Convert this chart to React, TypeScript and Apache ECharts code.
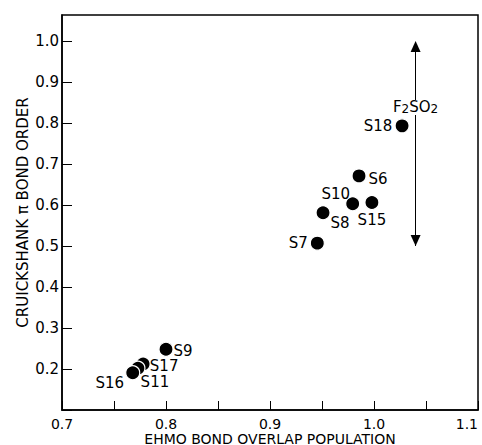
import React, { useEffect, useRef } from "react";
import * as echarts from "echarts";

// Compounds (drawing order: overlapping cluster back-to-front first)
const compounds = ["S17", "S11", "S16", "S9", "S7", "S8", "S10", "S15", "S6", "S18"];
const overlapPopulation = [0.778, 0.773, 0.768, 0.8, 0.9455, 0.951, 0.9795, 0.998, 0.9856, 1.027];
const piBondOrder = [0.212, 0.202, 0.191, 0.248, 0.507, 0.581, 0.603, 0.606, 0.671, 0.793];

// F2SO2 range arrow
const arrowX = 1.04;
const arrowRange = [0.5, 1.0];
const arrowLabel = { name: "F2SO2", x: 1.04, y: 0.838 };

const xTickLabels = ["0.7", "0.8", "0.9", "1.0", "1.1"];
const yTickLabels = ["0.2", "0.3", "0.4", "0.5", "0.6", "0.7", "0.8", "0.9", "1.0"];

// label placement (pixel offsets from marker centre)
const labelOffsets: Record<string, [number, number]> = {
  S17: [21, 2],
  S11: [17, 14],
  S16: [-23, 10],
  S9: [17, 2],
  S7: [-19, 0],
  S8: [17, 10],
  S10: [-17, -10],
  S15: [0, 17],
  S6: [19, 3],
  S18: [-24, 0],
};

const FONT = "DejaVu Sans";

export default function App() {
  const ref = useRef<HTMLDivElement>(null);
  useEffect(() => {
    if (!ref.current) return;
    const chart = echarts.init(ref.current, null, { renderer: "svg" });
    chart.setOption({
      animation: false,
      backgroundColor: "#fff",
      grid: {
        left: 62,
        right: 4,
        top: 15,
        bottom: 35,
        show: true,
        borderColor: "#000",
        borderWidth: 1.5,
        containLabel: false,
        outerBoundsMode: "none",
      },
      xAxis: {
        type: "value",
        min: 0.7,
        max: 1.1,
        interval: 0.05,
        name: "EHMO BOND OVERLAP POPULATION",
        nameLocation: "middle",
        nameGap: 22,
        nameMoveOverlap: false,
        nameTextStyle: { fontFamily: FONT, fontSize: 14, lineHeight: 13, color: "#000" },
        axisLine: { show: true, lineStyle: { color: "#000", width: 1.5 } },
        axisTick: { show: true, inside: true, length: 9, lineStyle: { color: "#000", width: 1 } },
        splitLine: { show: false },
        axisLabel: {
          fontFamily: FONT,
          fontSize: 14,
          lineHeight: 13,
          color: "#000",
          margin: 7,
          showMinLabel: true,
          showMaxLabel: true,
          alignMaxLabel: "right",
          hideOverlap: false,
          formatter: (v: number) => {
            const t = (Math.round(v * 100) / 100).toFixed(2);
            const one = t.endsWith("0") ? t.slice(0, -1) : "";
            return xTickLabels.includes(one) ? one : "";
          },
        },
      },
      yAxis: {
        type: "value",
        min: 0.1,
        max: 1.0634,
        interval: 0.1,
        name: "CRUICKSHANK π BOND ORDER",
        nameLocation: "middle",
        nameRotate: 90,
        nameGap: 32,
        nameMoveOverlap: false,
        nameTextStyle: { fontFamily: FONT, fontSize: 15, color: "#000" },
        axisLine: { show: true, lineStyle: { color: "#000", width: 1.5 } },
        axisTick: { show: true, inside: true, length: 10, lineStyle: { color: "#000", width: 1 } },
        splitLine: { show: false },
        axisLabel: {
          fontFamily: FONT,
          fontSize: 15,
          color: "#000",
          margin: 3,
          showMaxLabel: false,
          formatter: (v: number) => {
            const t = (Math.round(v * 10) / 10).toFixed(1);
            return yTickLabels.includes(t) ? t : "";
          },
        },
      },
      series: [
        {
          type: "scatter",
          symbol: "circle",
          symbolSize: 14,
          itemStyle: { color: "#000", borderColor: "#fff", borderWidth: 1.2, opacity: 1 },
          data: compounds.map((n, i) => ({
            name: n,
            value: [overlapPopulation[i], piBondOrder[i]],
            label: {
              show: true,
              position: "inside",
              offset: labelOffsets[n],
              formatter: n,
              color: "#000",
              fontFamily: FONT,
              fontSize: 15,
            },
          })),
          markLine: {
            silent: true,
            symbol: ["none", "none"],
            label: { show: false },
            lineStyle: { color: "#000", width: 1, type: "solid", opacity: 1 },
            emphasis: { disabled: true },
            data: [
              [
                { coord: [arrowX, arrowRange[0]] },
                { coord: [arrowX, arrowRange[1] - 0.01] },
              ],
            ],
          },
          markPoint: {
            silent: true,
            symbol: "triangle",
            symbolSize: [10, 11],
            itemStyle: { color: "#000", borderWidth: 0 },
            label: { show: false },
            emphasis: { disabled: true },
            data: [
              { coord: [arrowX, arrowRange[1]], symbolOffset: [0, 5.5], symbolRotate: 0 },
              { coord: [arrowX, arrowRange[0]], symbolOffset: [0, -5.5], symbolRotate: 180 },
            ],
          },
        },
        {
          type: "scatter",
          z: 5,
          symbolSize: 0,
          itemStyle: { color: "#fff", opacity: 1 },
          data: [
            {
              name: arrowLabel.name,
              value: [arrowLabel.x, arrowLabel.y],
              label: {
                show: true,
                position: "inside",
                offset: [0, 0],
                color: "#000",
                backgroundColor: "#fff",
                padding: [0, 2],
                formatter: "{n|F}{s|2}{n|SO}{s|2}",
                rich: {
                  n: { fontFamily: FONT, fontSize: 15, color: "#000", lineHeight: 15, verticalAlign: "top" },
                  s: { fontFamily: FONT, fontSize: 12, color: "#000", lineHeight: 12, padding: [7, 0, 0, 0], verticalAlign: "bottom" },
                },
              },
            },
          ],
        },
      ],
    });
    return () => chart.dispose();
  }, []);
  return <div ref={ref} style={{ width: 482, height: 445, position: "absolute", left: 0, top: 0 }} />;
}
